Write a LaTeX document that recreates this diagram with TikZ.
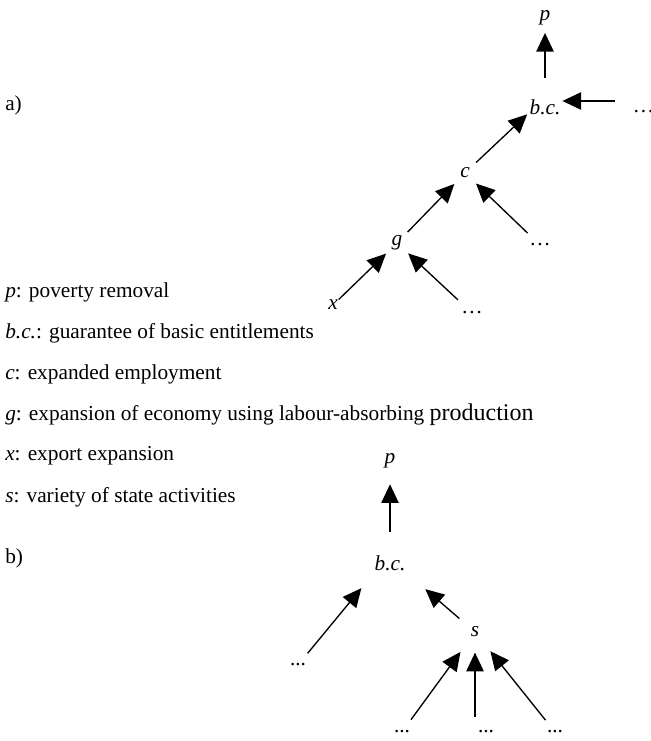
\documentclass[tikz,border=0pt]{standalone}
\usepackage{fontspec}
\setmainfont{Liberation Serif}
\usetikzlibrary{arrows.meta,positioning}
\tikzset{
  lbl/.style={circle, inner sep=0pt, minimum size=22.5pt},
  legend/.style={anchor=west, inner sep=0pt},
  arr/.style={-{Triangle[length=14pt,width=13pt]}, line width=1pt, draw=black},
}
\begin{document}
\begin{tikzpicture}[x=0.75pt, y=-0.75pt, on grid, font=\fontsize{16}{19}\selectfont]
  \useasboundingbox (0,0) rectangle (650,741);
  % tree a)
  \node[lbl] (bc1) at (545,107) {\textit{b.c.}};
  \node[lbl, above=67pt of bc1] (p1) {\textit{p}};
  \node[lbl, below right=3.75pt and 73.9pt of bc1] (dR) {\dots};
  \node[lbl, below left=49.5pt and 60pt of bc1] (c1) {\textit{c}};
  \node[lbl, below right=54pt and 56.25pt of c1] (dC) {\dots};
  \node[lbl, below left=52.5pt and 51pt of c1] (g1) {\textit{g}};
  \node[lbl, below left=46.5pt and 48pt of g1] (x1) {\textit{x}};
  \node[lbl, below right=52.5pt and 56.25pt of g1] (dG) {\dots};
  \coordinate (bcin) at ([yshift=4.5pt]bc1.east);
  \draw[arr, shorten <=9pt] (bc1) -- (p1);
  \draw[arr, shorten <=10pt] (dR.west |- bcin) -- (bcin);
  \draw[arr, shorten >=1.5pt] (c1) -- (bc1.200);
  \draw[arr, shorten <=1.5pt] (dC) -- (c1);
  \draw[arr] (g1) -- (c1);
  \draw[arr, shorten <=-5.5pt] (x1) -- (g1);
  \draw[arr, shorten <=3pt] (dG) -- (g1);
  % legend
  \node[legend] (la) at (5,105) {a)};
  \node[legend] (lp) at (5,292) {\textit{p}: poverty removal};
  \node[legend] (lbc) at (5,333) {\textit{b.c.}: guarantee of basic entitlements};
  \node[legend] (lc) at (5,374) {\textit{c}: expanded employment};
  \node[legend] (lg) at (5,415) {\textit{g}: expansion of economy using labour-absorbing {\fontsize{18}{20}\selectfont production}};
  \node[legend] (lx) at (5,456) {\textit{x}: export expansion};
  \node[legend] (ls) at (5,497) {\textit{s}: variety of state activities};
  \node[legend] (lb) at (5,558) {b)};
  % tree b)
  \node[lbl] (bc2) at (390,563) {\textit{b.c.}};
  \node[lbl, above=77pt of bc2] (p2) {\textit{p}};
  \node[lbl, below left=76.5pt and 69pt of bc2] (dL) {...};
  \node[lbl, below right=51.75pt and 63.75pt of bc2] (s1) {\textit{s}};
  \node[lbl, below left=75pt and 54.75pt of s1] (d1) {...};
  \node[lbl, below right=75pt and 8.25pt of s1] (d2) {...};
  \node[lbl, below right=75pt and 60pt of s1] (d3) {...};
  \draw[arr, shorten <=10.5pt, shorten >=6.5pt] (bc2) -- (p2);
  \draw[arr, shorten >=16pt] (dL) -- (bc2.210);
  \draw[arr, shorten <=4pt, shorten >=20pt] (s1) -- (bc2.-30);
  \draw[arr, shorten >=7pt] (d1) -- (s1);
  \draw[arr, shorten >=4pt] (s1 |- d2.north) -- (s1);
  \draw[arr, shorten >=7pt] (d3) -- (s1);
\end{tikzpicture}
\end{document}
